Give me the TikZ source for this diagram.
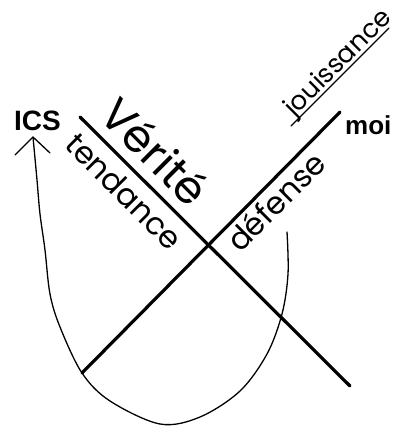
\documentclass[tikz,border=0pt]{standalone}
\usepackage{fontspec}
\setmainfont{Liberation Sans}
\newfontfamily\geo{Poppins}
\begin{document}
\begin{tikzpicture}[x=1pt,y=-1pt,
  thickline/.style={line width=3.2pt, line cap=round},
  thinline/.style={line width=1.3pt, line cap=round, line join=round},
  geolab/.style={inner sep=0pt, font=\geo\fontsize{31}{31}\selectfont},
  joulab/.style={inner sep=0pt, font=\geo\fontsize{26}{26}\selectfont},
  biglab/.style={inner sep=0pt, font=\geo\fontsize{45}{45}\selectfont},
  boldlab/.style={inner sep=0pt, font=\bfseries\fontsize{28}{28}\selectfont},
  moilab/.style={inner sep=0pt, font=\bfseries\fontsize{26}{26}\selectfont}]
\useasboundingbox[fill=white] (0,0) rectangle (393,428);
% main crossing lines
\coordinate (A1) at (80,117);
\coordinate (A2) at (350,386);
\coordinate (B1) at (82,373);
\coordinate (B2) at (340,112);
\draw[thickline] (A1) -- (A2);
\draw[thickline] (B1) -- (B2);
% labels
\node[boldlab, anchor=base west] (ics) at (14,130) {ICS};
\node[moilab, anchor=base west] (moi) at (345,134) {moi};
\node[biglab, anchor=base west, rotate=-45] (verite) at (97,117) {Vérité};
\node[geolab, anchor=base west, rotate=-45] (tendance) at (63,146) {tendance};
\node[geolab, anchor=base west, rotate=45] (defense) at (240,254) {défense};
\node[joulab, anchor=base west, rotate=45] (jouissance) at (294,118) {jouissance};
% underline of jouissance
\coordinate (U1) at (291,126);
\coordinate (U2) at (389,28);
\draw[thinline] (U1) -- (U2);
% loop arrow
\coordinate (tip) at (33,137);
\coordinate (wl) at (15,155);
\coordinate (wr) at (50,153);
\coordinate (start) at (287,232);
\draw[thinline] plot[smooth, tension=0.55] coordinates {
  (287,232) (288,274) (282,314) (267,354) (240,391) (200,417) (160,424)
  (110,401) (82,373) (60,327) (50,294) (45,250) (40,214) (37,180) (33,137)};
\draw[thinline] (wl) -- (tip) -- (wr);
\end{tikzpicture}
\end{document}
